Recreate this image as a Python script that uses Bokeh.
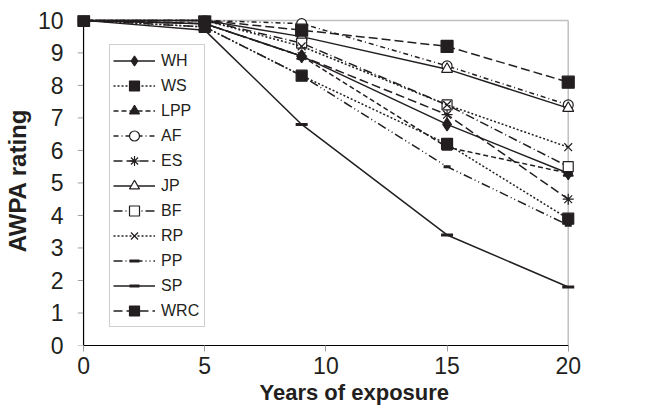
from bokeh.plotting import figure
from bokeh.models import Range1d, Legend, LegendItem, FixedTicker, Title
from bokeh.embed import file_html
from bokeh.resources import INLINE

years = [0, 5, 9, 15, 20]
WH = [10, 9.9, 8.9, 6.8, 5.3]
WS = [10, 9.8, 8.3, 6.2, 3.9]
LPP = [10, 9.9, 8.9, 6.1, 5.3]
AF = [10, 10, 9.9, 8.6, 7.4]
ES = [10, 9.9, 8.9, 7.1, 4.5]
JP = [10, 10, 9.5, 8.5, 7.3]
BF = [10, 10, 9.3, 7.4, 5.5]
RP = [10, 10, 9.2, 7.4, 6.1]
PP = [10, 9.8, 8.3, 5.5, 3.7]
SP = [10, 9.7, 6.8, 3.4, 1.8]
WRC = [10, 10, 9.7, 9.2, 8.1]

x_ticks = [0, 5, 10, 15, 20]
y_ticks = list(range(0, 11))
XMIN, XMAX = 0, 20
YMIN, YMAX = 0, 10
TICK = 0.25  # y tick length in x units

INK = "#231f20"
FONT = "Liberation Sans"

p = figure(width=592, height=413, output_backend="svg", toolbar_location=None,
           x_range=Range1d(-0.25, 20.3), y_range=Range1d(0, 10.15),
           min_border_left=76, min_border_right=17, min_border_top=15, min_border_bottom=68)
p.outline_line_color = None
p.xgrid.grid_line_color = None
p.ygrid.grid_line_color = None

# frame (grey top/right)
p.segment(x0=[XMIN, XMAX], y0=[YMAX, YMIN], x1=[XMAX, XMAX], y1=[YMAX, YMAX],
          line_color="#c0c0c0", line_width=1.5)
# y axis line at x=0 and its ticks
p.segment(x0=[XMIN - TICK] * len(y_ticks), y0=y_ticks, x1=[XMIN] * len(y_ticks), y1=y_ticks,
          line_color="#a0a0a0", line_width=1)
p.segment(x0=[XMIN], y0=[YMIN], x1=[XMIN], y1=[YMAX], line_color="black", line_width=1.2)

series = [
    ("WH", WH, "solid", "diamond", 13, True),
    ("WS", WS, "2 2", "square", 11, True),
    ("LPP", LPP, "5 3", "triangle", 10, True),
    ("AF", AF, "5 3 1 3", "circle", 10, False),
    ("ES", ES, "9 4", "asterisk", 11, False),
    ("JP", JP, "solid", "triangle", 11, False),
    ("BF", BF, "9 3 1 3", "square", 10, False),
    ("RP", RP, "2 2", "x", 11, False),
    ("PP", PP, "9 3 1 3 1 3", "dash", 7, False),
    ("SP", SP, "solid", "dash", 12, False),
    ("WRC", WRC, "9 4", "square", 12, True),
]

items = []
for name, vals, dash, marker, size, filled in series:
    r1 = p.line(years, vals, line_color=INK, line_width=1.5, line_dash=dash)
    lw = 1.2
    if marker == "dash":
        lw = 3
    r2 = p.scatter(years, vals, marker=marker, size=size, line_color=INK,
                   fill_color=INK if filled else "white", line_width=lw)
    items.append(LegendItem(label=name, renderers=[r1, r2]))

legend = Legend(items=items, location=(32, 18))
legend.label_text_font = FONT
legend.label_text_font_size = "16px"
legend.label_text_color = INK
legend.glyph_width = 42
legend.glyph_height = 25
legend.label_height = 25
legend.label_width = 40
legend.label_standoff = 6
legend.spacing = 0
legend.padding = 3
legend.margin = 0
legend.border_line_color = "#a0a0a0"
legend.border_line_width = 1.2
legend.background_fill_alpha = 1
p.add_layout(legend, "center")

for ax in (p.xaxis[0], p.yaxis[0]):
    ax.axis_line_color = "black"
    ax.axis_line_width = 1.2
    ax.major_tick_line_color = "#a0a0a0"
    ax.major_tick_out = 6
    ax.major_tick_in = 0
    ax.minor_tick_line_color = None
    ax.major_label_text_font = FONT
    ax.major_label_text_font_size = "23px"
    ax.major_label_text_color = INK
    ax.axis_label_text_font = FONT
    ax.axis_label_text_font_style = "bold"
    ax.axis_label_text_font_size = "24px"
    ax.axis_label_text_color = INK

p.yaxis.axis_line_color = None
p.yaxis.major_tick_line_color = None
p.yaxis.major_tick_out = 0

p.xaxis.ticker = FixedTicker(ticks=x_ticks)
p.yaxis.ticker = FixedTicker(ticks=y_ticks)
p.xaxis.bounds = (XMIN, XMAX)
p.yaxis.axis_label = "AWPA rating"
p.xaxis.major_label_standoff = 5
p.yaxis.major_label_standoff = 14
p.yaxis.axis_label_standoff = 4

xtitle = Title(text="Years of exposure", align="left", offset=182, standoff=2,
               text_font=FONT, text_font_style="bold", text_font_size="22px",
               text_color=INK)
p.add_layout(xtitle, "below")

open("out.html", "w").write(file_html(p, INLINE))
